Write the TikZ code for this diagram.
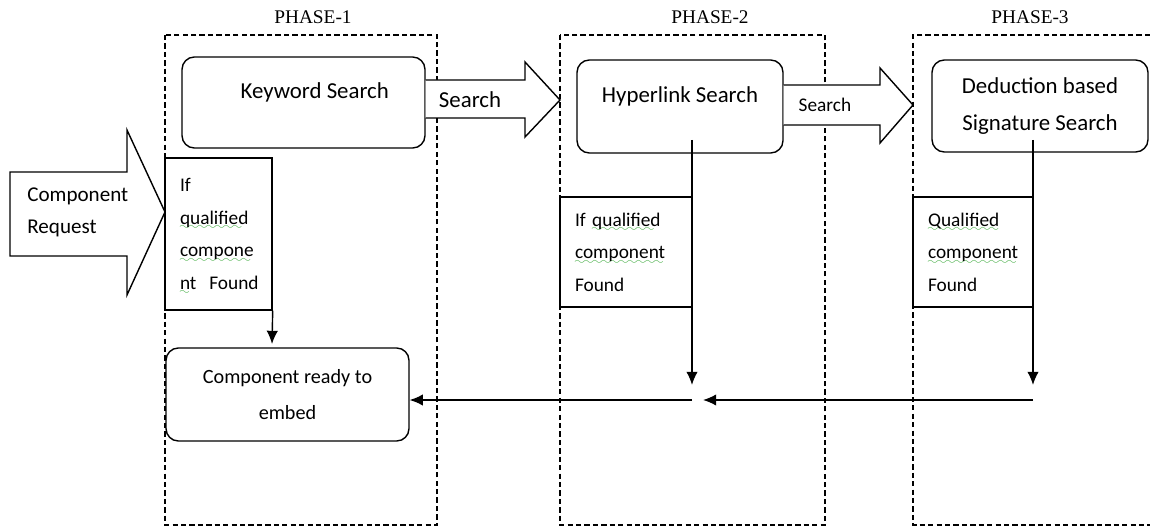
\documentclass[tikz,border=0pt]{standalone}
\usepackage{fontspec}
\setmainfont{Carlito}
\newfontfamily\phasefont{Liberation Serif}
\usepackage{xcolor}
\usetikzlibrary{arrows.meta}

\definecolor{spellgreen}{RGB}{70,175,70}
\font\squigglefont=lasy6
% green spell-check wave under a word
\newcommand{\spellmark}[1]{\leavevmode\setbox0\hbox{#1}\rlap{\color{spellgreen}\raisebox{-3.2pt}[0pt][0pt]{\hbox to\wd0{\leaders\hbox{\squigglefont\char58}\hfill}}}#1}

\begin{document}
\begin{tikzpicture}[x=0.02cm, y=-0.02cm,
    phasebox/.style={line width=0.75pt, dash pattern=on 3pt off 1.8pt},
    phaselabel/.style={font=\phasefont\fontsize{11}{13}\selectfont},
    searchbox/.style={draw, line width=0.8pt, rounded corners=7pt, fill=white, align=center, inner sep=0pt, font=\fontsize{13}{21}\selectfont},
    foundbox/.style={draw, line width=0.8pt, fill=white, align=left, inner xsep=0.3cm, inner ysep=0pt, font=\fontsize{11}{18.5}\selectfont},
    blockarrow/.style={draw, line width=0.8pt, fill=white},
    flow/.style={line width=0.8pt, -{Latex[length=7.5pt,width=6.5pt]}}]
                % Page size
                \useasboundingbox (0,0) rectangle (1150,527);

                % Phase frames
                \draw[phasebox] (165,35) rectangle (437,525);
                \draw[phasebox] (560,35) rectangle (825,525);
                \draw[phasebox] (1150,35) -- (913,35) -- (913,525) -- (1150,525);
                \node[phaselabel] (phaseA) at (313,17) {PHASE-1};
                \node[phaselabel] (phaseB) at (710,17) {PHASE-2};
                \node[phaselabel] (phaseC) at (1030,17) {PHASE-3};

                % Search boxes
                \node[searchbox, minimum width=4.86cm, minimum height=1.82cm] (keyword) at (303.5,102.5) {\hspace*{0.45cm}Keyword Search\\[-7pt]\mbox{}};
                \node[searchbox, minimum width=4.12cm, minimum height=1.86cm] (hyperlink) at (680,106.5) {Hyperlink Search\\[-7pt]\mbox{}};
                \node[searchbox, minimum width=4.32cm, minimum height=1.84cm] (deduction) at (1040,106) {Deduction based\\Signature Search};

                % Found boxes
                \node[foundbox, text width=1.54cm, minimum height=3.04cm] (foundA) at (218.5,234) {If\\\spellmark{qualified}\\\spellmark{compone}\\\spellmark{nt}~~Found};
                \node[foundbox, text width=2.04cm, minimum height=2.2cm] (foundB) at (626,252) {If \spellmark{qualified}\\\spellmark{component}\\Found};
                \node[foundbox, text width=1.8cm, minimum height=2.2cm] (foundC) at (973,252) {\spellmark{Qualified}\\\spellmark{component}\\Found};

                % Result box
                \node[searchbox, minimum width=4.86cm, minimum height=1.86cm, font=\fontsize{11.5}{20}\selectfont] (ready) at (287.5,394.5) {Component ready to\\embed};

                % Block arrows
                \draw[blockarrow] (10,172) -- (127,172) -- (127,130) -- (165,212) -- (127,295) -- (127,256) -- (10,256) -- cycle;
                \node[font=\fontsize{12}{18.2}\selectfont, align=left, anchor=west, inner sep=0pt] (request) at (27,212) {Component\\Request};
                \draw[blockarrow] (keyword.east |- 0,80) -- (525,80) -- (525,62) -- (560,100) -- (525,137) -- (525,118) -- (keyword.east |- 0,118);
                \node[font=\fontsize{13}{15}\selectfont, inner sep=0pt] (searchA) at (470,100) {Search};
                \draw[blockarrow] (hyperlink.east |- 0,85) -- (880,85) -- (880,68) -- (913,105) -- (880,143) -- (880,125) -- (hyperlink.east |- 0,125);
                \node[font=\fontsize{11}{13}\selectfont, inner sep=0pt] (searchB) at (825,105) {Search};

                % Result flow
                \coordinate (hypTop) at (692,140);
                \coordinate (hypEnd) at (692,385);
                \coordinate (hypMerge) at (692,400);
                \coordinate (dedTop) at (1033,140);
                \coordinate (dedEnd) at (1033,385);
                \coordinate (dedMerge) at (1033,400);
                \coordinate (gap) at (703,400);
                \coordinate (readyIn) at (272,344);
                \draw[flow] (foundA.south east) -- (readyIn);
                \draw[flow] (hypTop) -- (hypEnd);
                \draw[flow] (dedTop) -- (dedEnd);
                \draw[flow] (hypMerge) -- (ready.east |- hypMerge);
                \draw[flow] (dedMerge) -- (gap);
            \end{tikzpicture}
\end{document}
